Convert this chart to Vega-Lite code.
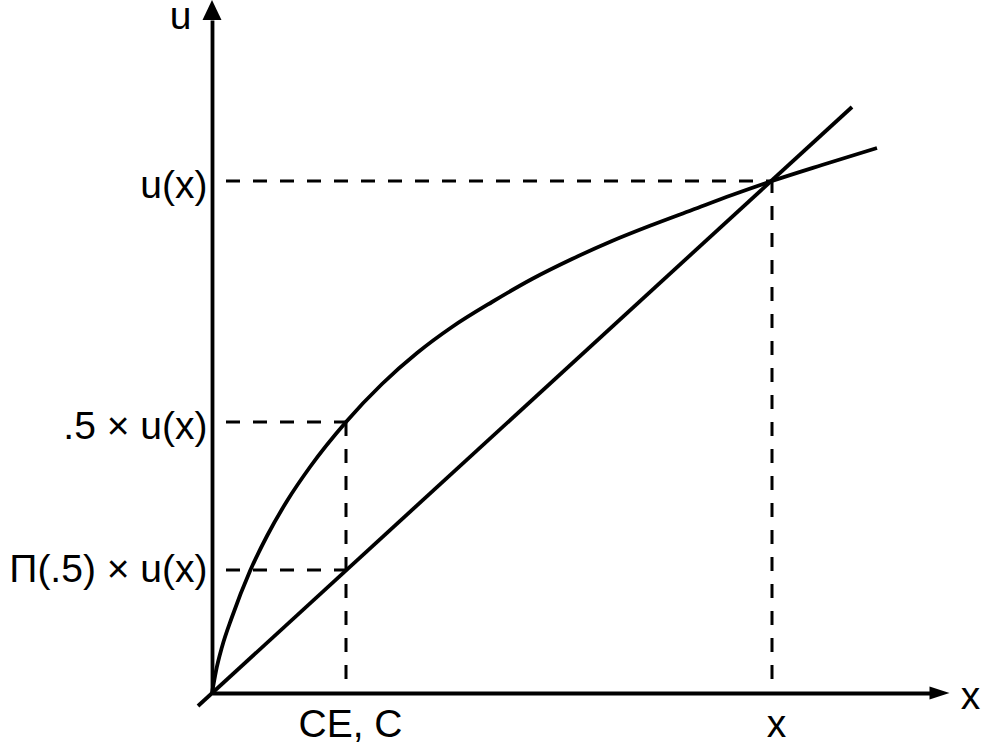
{
  "$schema": "https://vega.github.io/schema/vega-lite/v6.json",
  "width": 723,
  "height": 673,
  "autosize": {"type": "none"},
  "padding": {"left": 212, "top": 20, "right": 46, "bottom": 54},
  "background": "white",
  "config": {"view": {"stroke": null}, "font": "Liberation Sans"},
  "datasets": {
    "guides": [
      {"x": 0, "y": 512, "x2": 560, "y2": 512},
      {"x": 560, "y": 0, "x2": 560, "y2": 512},
      {"x": 0, "y": 271, "x2": 134, "y2": 271},
      {"x": 134, "y": 0, "x2": 134, "y2": 271},
      {"x": 0, "y": 123, "x2": 134, "y2": 123}
    ],
    "diagonal": [{"x": -14, "y": -13}, {"x": 640, "y": 586}],
    "curve": [
      {"x": 0, "y": 0}, {"x": 4, "y": 22}, {"x": 10, "y": 46}, {"x": 20, "y": 76},
      {"x": 38, "y": 122}, {"x": 55, "y": 157}, {"x": 75, "y": 192}, {"x": 98, "y": 226},
      {"x": 134, "y": 271}, {"x": 170, "y": 309}, {"x": 205, "y": 340}, {"x": 240, "y": 366},
      {"x": 280, "y": 391}, {"x": 320, "y": 414}, {"x": 360, "y": 434}, {"x": 400, "y": 452},
      {"x": 440, "y": 468}, {"x": 480, "y": 483}, {"x": 520, "y": 498}, {"x": 560, "y": 512},
      {"x": 610, "y": 528}, {"x": 665, "y": 545}
    ]
  },
  "layer": [
    {
      "data": {"name": "guides"},
      "mark": {"type": "rule", "strokeDash": [14, 13], "strokeDashOffset": 13, "strokeWidth": 3, "color": "black"},
      "encoding": {
        "x": {
          "field": "x", "type": "quantitative",
          "scale": {"domain": [0, 723], "nice": false, "zero": false},
          "axis": {
            "title": "x", "titleAngle": 0, "titleX": 758, "titleY": 15,
            "titleBaseline": "alphabetic", "titleAlign": "center",
            "titleFontSize": 39, "titleFontWeight": "normal", "titleColor": "black", "titleFont": "Liberation Sans",
            "values": [134, 560],
            "labelExpr": "datum.value == 134 ? 'CE, C' : 'x'",
            "ticks": false, "tickSize": 0, "grid": false,
            "domainColor": "black", "domainWidth": 3.8, "domainCap": "butt",
            "labelFontSize": 39, "labelColor": "black", "labelFont": "Liberation Sans",
            "labelBaseline": "alphabetic", "labelPadding": 43, "labelOffset": 4, "labelLimit": 0,
            "labelFlush": false, "labelOverlap": false
          }
        },
        "y": {
          "field": "y", "type": "quantitative",
          "scale": {"domain": [0, 673], "nice": false, "zero": false},
          "axis": {
            "title": "u", "titleAngle": 0, "titleX": -32, "titleY": 8,
            "titleBaseline": "alphabetic", "titleAlign": "center",
            "titleFontSize": 39, "titleFontWeight": "normal", "titleColor": "black", "titleFont": "Liberation Sans",
            "values": [123, 271, 512],
            "labelExpr": "datum.value == 512 ? 'u(x)' : datum.value == 271 ? '.5 × u(x)' : 'Π(.5) × u(x)'",
            "ticks": false, "tickSize": 0, "grid": false,
            "domainColor": "black", "domainWidth": 3.8, "domainCap": "butt",
            "labelFontSize": 39, "labelColor": "black", "labelFont": "Liberation Sans",
            "labelBaseline": "alphabetic", "labelPadding": 5, "labelLimit": 0,
            "labelOffset": {"condition": {"test": "datum.value == 123", "value": 11}, "value": 16},
            "labelFlush": false, "labelOverlap": false
          }
        },
        "x2": {"field": "x2"},
        "y2": {"field": "y2"}
      }
    },
    {
      "data": {"name": "diagonal"},
      "mark": {"type": "line", "strokeWidth": 3.8, "color": "black", "clip": false},
      "encoding": {
        "x": {"field": "x", "type": "quantitative"},
        "y": {"field": "y", "type": "quantitative"}
      }
    },
    {
      "data": {"name": "curve"},
      "mark": {"type": "line", "interpolate": "monotone", "strokeWidth": 3.8, "color": "black", "clip": false},
      "encoding": {
        "x": {"field": "x", "type": "quantitative"},
        "y": {"field": "y", "type": "quantitative"}
      }
    },
    {
      "data": {"values": [{}]},
      "mark": {"type": "point", "shape": "M0,-1L0.95,1L-0.95,1Z", "size": 400, "filled": true, "color": "black", "opacity": 1, "strokeWidth": 0},
      "encoding": {"x": {"datum": 0}, "y": {"datum": 683}}
    },
    {
      "data": {"values": [{}]},
      "mark": {"type": "point", "shape": "M1,0L-1,-0.65L-1,0.65Z", "size": 400, "filled": true, "color": "black", "opacity": 1, "strokeWidth": 0},
      "encoding": {"x": {"datum": 727.5}, "y": {"datum": 0}}
    }
  ]
}
